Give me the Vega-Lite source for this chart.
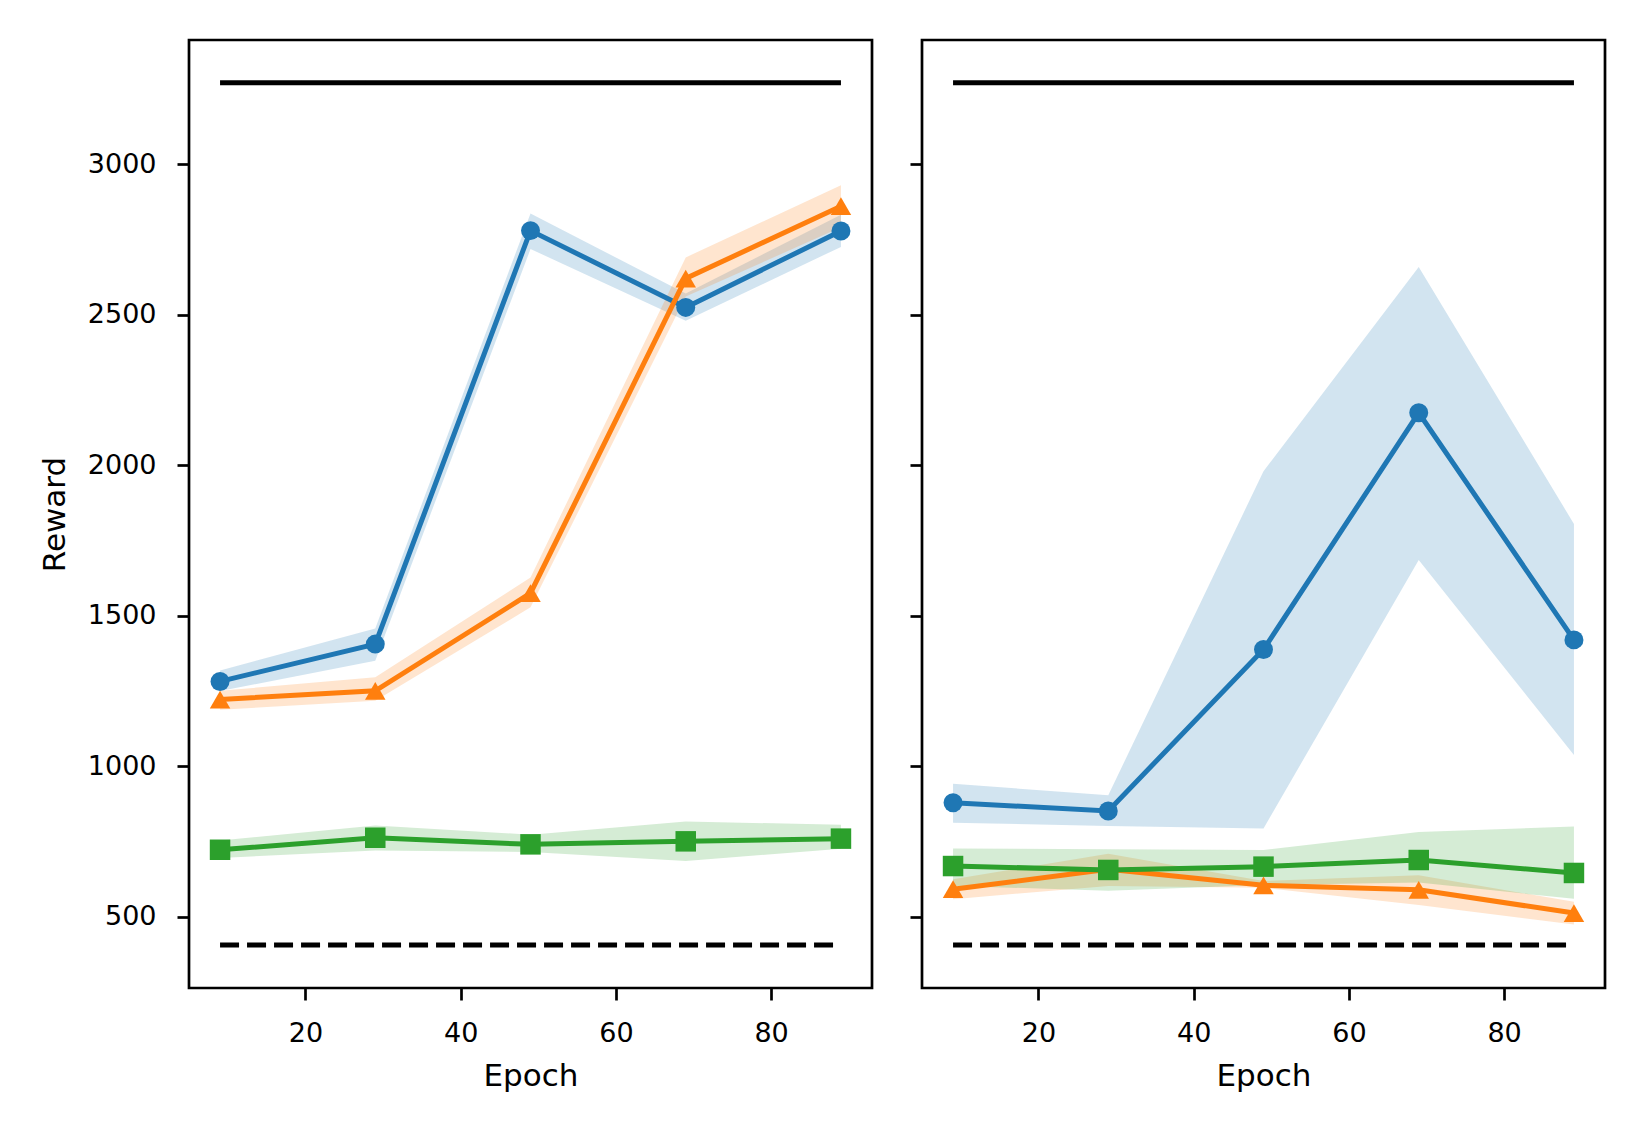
{
  "$schema": "https://vega.github.io/schema/vega-lite/v6.json",
  "background": "white",
  "padding": {"left": 37, "top": 38, "right": 5, "bottom": 5},
  "spacing": 33,
  "config": {
    "font": "DejaVu Sans",
    "view": {"stroke": "black", "strokeWidth": 2.7},
    "axis": {
      "domain": false, "grid": false,
      "tickColor": "black", "tickWidth": 2.7, "tickSize": 12,
      "labelFont": "DejaVu Sans", "labelFontSize": 27, "labelColor": "black", "labelPadding": 21,
      "titleFont": "DejaVu Sans", "titleFontSize": 31, "titleFontWeight": "normal", "titleColor": "black",
      "format": "d"
    },
    "axisX": {"titlePadding": 15, "labelPadding": 20},
    "axisY": {"titlePadding": 16}
  },
  "datasets": {
    "curves": [
      {"panel": "left", "method": "A", "epoch": 9, "mean": 1282, "lo": 1250, "hi": 1318},
      {"panel": "left", "method": "A", "epoch": 29, "mean": 1406, "lo": 1351, "hi": 1458},
      {"panel": "left", "method": "A", "epoch": 49, "mean": 2779, "lo": 2718, "hi": 2836},
      {"panel": "left", "method": "A", "epoch": 69, "mean": 2524, "lo": 2480, "hi": 2570},
      {"panel": "left", "method": "A", "epoch": 89, "mean": 2778, "lo": 2725, "hi": 2832},
      {"panel": "left", "method": "B", "epoch": 9, "mean": 1222, "lo": 1188, "hi": 1251},
      {"panel": "left", "method": "B", "epoch": 29, "mean": 1251, "lo": 1218, "hi": 1296},
      {"panel": "left", "method": "B", "epoch": 49, "mean": 1575, "lo": 1528, "hi": 1627},
      {"panel": "left", "method": "B", "epoch": 69, "mean": 2620, "lo": 2560, "hi": 2690},
      {"panel": "left", "method": "B", "epoch": 89, "mean": 2860, "lo": 2790, "hi": 2930},
      {"panel": "left", "method": "C", "epoch": 9, "mean": 723, "lo": 696, "hi": 754},
      {"panel": "left", "method": "C", "epoch": 29, "mean": 763, "lo": 721, "hi": 804},
      {"panel": "left", "method": "C", "epoch": 49, "mean": 741, "lo": 716, "hi": 773},
      {"panel": "left", "method": "C", "epoch": 69, "mean": 751, "lo": 686, "hi": 817},
      {"panel": "left", "method": "C", "epoch": 89, "mean": 760, "lo": 726, "hi": 806},
      {"panel": "right", "method": "A", "epoch": 9, "mean": 879, "lo": 813, "hi": 942},
      {"panel": "right", "method": "A", "epoch": 29, "mean": 852, "lo": 802, "hi": 904},
      {"panel": "right", "method": "A", "epoch": 49, "mean": 1388, "lo": 794, "hi": 1980},
      {"panel": "right", "method": "A", "epoch": 69, "mean": 2174, "lo": 1685, "hi": 2658},
      {"panel": "right", "method": "A", "epoch": 89, "mean": 1420, "lo": 1038, "hi": 1805},
      {"panel": "right", "method": "B", "epoch": 9, "mean": 592, "lo": 559, "hi": 625},
      {"panel": "right", "method": "B", "epoch": 29, "mean": 658, "lo": 603, "hi": 710},
      {"panel": "right", "method": "B", "epoch": 49, "mean": 605, "lo": 597, "hi": 619},
      {"panel": "right", "method": "B", "epoch": 69, "mean": 590, "lo": 540, "hi": 638},
      {"panel": "right", "method": "B", "epoch": 89, "mean": 513, "lo": 475, "hi": 550},
      {"panel": "right", "method": "C", "epoch": 9, "mean": 669, "lo": 603, "hi": 727},
      {"panel": "right", "method": "C", "epoch": 29, "mean": 656, "lo": 587, "hi": 725},
      {"panel": "right", "method": "C", "epoch": 49, "mean": 667, "lo": 606, "hi": 722},
      {"panel": "right", "method": "C", "epoch": 69, "mean": 689, "lo": 614, "hi": 782},
      {"panel": "right", "method": "C", "epoch": 89, "mean": 646, "lo": 560, "hi": 800}
    ],
    "refs": [
      {"panel": "left", "kind": "upper", "epoch": 9, "value": 3270},
      {"panel": "left", "kind": "upper", "epoch": 89, "value": 3270},
      {"panel": "left", "kind": "lower", "epoch": 9, "value": 407},
      {"panel": "left", "kind": "lower", "epoch": 89, "value": 407},
      {"panel": "right", "kind": "upper", "epoch": 9, "value": 3270},
      {"panel": "right", "kind": "upper", "epoch": 89, "value": 3270},
      {"panel": "right", "kind": "lower", "epoch": 9, "value": 407},
      {"panel": "right", "kind": "lower", "epoch": 89, "value": 407}
    ]
  },
  "hconcat": [
    {
      "width": 683, "height": 948,
      "layer": [
        {
          "data": {"name": "curves"},
          "transform": [{"filter": "datum.panel === 'left'"}],
          "mark": {"type": "area", "opacity": 0.2},
          "encoding": {
            "x": {"field": "epoch", "type": "quantitative", "scale": {"domain": [5, 93], "nice": false, "zero": false}, "axis": {"values": [20, 40, 60, 80], "title": "Epoch"}},
            "y": {"field": "lo", "type": "quantitative", "scale": {"domain": [264, 3412], "nice": false, "zero": false}, "axis": {"values": [500, 1000, 1500, 2000, 2500, 3000], "title": "Reward"}},
            "y2": {"field": "hi"},
            "color": {"field": "method", "type": "nominal", "scale": {"domain": ["A", "B", "C"], "range": ["#1f77b4", "#ff7f0e", "#2ca02c"]}, "legend": null}
          }
        },
        {
          "data": {"name": "curves"},
          "transform": [{"filter": "datum.panel === 'left'"}],
          "mark": {"type": "line", "strokeWidth": 5},
          "encoding": {
            "x": {"field": "epoch", "type": "quantitative", "scale": {"domain": [5, 93], "nice": false, "zero": false}},
            "y": {"field": "mean", "type": "quantitative", "scale": {"domain": [264, 3412], "nice": false, "zero": false}},
            "color": {"field": "method", "type": "nominal", "scale": {"domain": ["A", "B", "C"], "range": ["#1f77b4", "#ff7f0e", "#2ca02c"]}, "legend": null}
          }
        },
        {
          "data": {"name": "curves"},
          "transform": [{"filter": "datum.panel === 'left' && datum.method === 'A'"}],
          "mark": {"type": "point", "filled": true, "opacity": 1, "size": 360, "shape": "circle"},
          "encoding": {
            "x": {"field": "epoch", "type": "quantitative", "scale": {"domain": [5, 93], "nice": false, "zero": false}},
            "y": {"field": "mean", "type": "quantitative", "scale": {"domain": [264, 3412], "nice": false, "zero": false}},
            "color": {"field": "method", "type": "nominal", "scale": {"domain": ["A", "B", "C"], "range": ["#1f77b4", "#ff7f0e", "#2ca02c"]}, "legend": null}
          }
        },
        {
          "data": {"name": "curves"},
          "transform": [{"filter": "datum.panel === 'left' && datum.method !== 'A'"}],
          "mark": {"type": "point", "filled": true, "opacity": 1, "size": 420},
          "encoding": {
            "x": {"field": "epoch", "type": "quantitative", "scale": {"domain": [5, 93], "nice": false, "zero": false}},
            "y": {"field": "mean", "type": "quantitative", "scale": {"domain": [264, 3412], "nice": false, "zero": false}},
            "color": {"field": "method", "type": "nominal", "scale": {"domain": ["A", "B", "C"], "range": ["#1f77b4", "#ff7f0e", "#2ca02c"]}, "legend": null},
            "shape": {"field": "method", "type": "nominal", "scale": {"domain": ["A", "B", "C"], "range": ["circle", "triangle-up", "square"]}, "legend": null}
          }
        },
        {
          "data": {"name": "refs"},
          "transform": [{"filter": "datum.panel === 'left'"}],
          "mark": {"type": "line", "strokeWidth": 5, "color": "black"},
          "encoding": {
            "x": {"field": "epoch", "type": "quantitative", "scale": {"domain": [5, 93], "nice": false, "zero": false}},
            "y": {"field": "value", "type": "quantitative", "scale": {"domain": [264, 3412], "nice": false, "zero": false}},
            "detail": {"field": "kind", "type": "nominal"},
            "strokeDash": {"field": "kind", "type": "nominal", "scale": {"domain": ["upper", "lower"], "range": [[1, 0], [19, 8]]}, "legend": null}
          }
        }
      ]
    },
    {
      "width": 683, "height": 948,
      "layer": [
        {
          "data": {"name": "curves"},
          "transform": [{"filter": "datum.panel === 'right'"}],
          "mark": {"type": "area", "opacity": 0.2},
          "encoding": {
            "x": {"field": "epoch", "type": "quantitative", "scale": {"domain": [5, 93], "nice": false, "zero": false}, "axis": {"values": [20, 40, 60, 80], "title": "Epoch"}},
            "y": {"field": "lo", "type": "quantitative", "scale": {"domain": [264, 3412], "nice": false, "zero": false}, "axis": {"values": [500, 1000, 1500, 2000, 2500, 3000], "title": null, "labels": false}},
            "y2": {"field": "hi"},
            "color": {"field": "method", "type": "nominal", "scale": {"domain": ["A", "B", "C"], "range": ["#1f77b4", "#ff7f0e", "#2ca02c"]}, "legend": null}
          }
        },
        {
          "data": {"name": "curves"},
          "transform": [{"filter": "datum.panel === 'right'"}],
          "mark": {"type": "line", "strokeWidth": 5},
          "encoding": {
            "x": {"field": "epoch", "type": "quantitative", "scale": {"domain": [5, 93], "nice": false, "zero": false}},
            "y": {"field": "mean", "type": "quantitative", "scale": {"domain": [264, 3412], "nice": false, "zero": false}},
            "color": {"field": "method", "type": "nominal", "scale": {"domain": ["A", "B", "C"], "range": ["#1f77b4", "#ff7f0e", "#2ca02c"]}, "legend": null}
          }
        },
        {
          "data": {"name": "curves"},
          "transform": [{"filter": "datum.panel === 'right' && datum.method === 'A'"}],
          "mark": {"type": "point", "filled": true, "opacity": 1, "size": 360, "shape": "circle"},
          "encoding": {
            "x": {"field": "epoch", "type": "quantitative", "scale": {"domain": [5, 93], "nice": false, "zero": false}},
            "y": {"field": "mean", "type": "quantitative", "scale": {"domain": [264, 3412], "nice": false, "zero": false}},
            "color": {"field": "method", "type": "nominal", "scale": {"domain": ["A", "B", "C"], "range": ["#1f77b4", "#ff7f0e", "#2ca02c"]}, "legend": null}
          }
        },
        {
          "data": {"name": "curves"},
          "transform": [{"filter": "datum.panel === 'right' && datum.method !== 'A'"}],
          "mark": {"type": "point", "filled": true, "opacity": 1, "size": 420},
          "encoding": {
            "x": {"field": "epoch", "type": "quantitative", "scale": {"domain": [5, 93], "nice": false, "zero": false}},
            "y": {"field": "mean", "type": "quantitative", "scale": {"domain": [264, 3412], "nice": false, "zero": false}},
            "color": {"field": "method", "type": "nominal", "scale": {"domain": ["A", "B", "C"], "range": ["#1f77b4", "#ff7f0e", "#2ca02c"]}, "legend": null},
            "shape": {"field": "method", "type": "nominal", "scale": {"domain": ["A", "B", "C"], "range": ["circle", "triangle-up", "square"]}, "legend": null}
          }
        },
        {
          "data": {"name": "refs"},
          "transform": [{"filter": "datum.panel === 'right'"}],
          "mark": {"type": "line", "strokeWidth": 5, "color": "black"},
          "encoding": {
            "x": {"field": "epoch", "type": "quantitative", "scale": {"domain": [5, 93], "nice": false, "zero": false}},
            "y": {"field": "value", "type": "quantitative", "scale": {"domain": [264, 3412], "nice": false, "zero": false}},
            "detail": {"field": "kind", "type": "nominal"},
            "strokeDash": {"field": "kind", "type": "nominal", "scale": {"domain": ["upper", "lower"], "range": [[1, 0], [19, 8]]}, "legend": null}
          }
        }
      ]
    }
  ]
}
